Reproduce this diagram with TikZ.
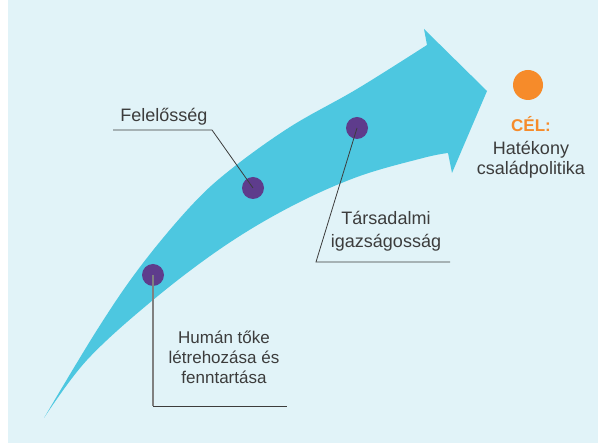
\documentclass[tikz,border=0pt]{standalone}
\usepackage{fontspec}
\setmainfont{Liberation Sans}
\usepackage{xcolor}
\usepackage{tikz}

\definecolor{fondo}{HTML}{E1F3F8}
\definecolor{flecha}{HTML}{4DC7E0}
\definecolor{morado}{HTML}{5E3C8C}
\definecolor{naranja}{HTML}{F68B2A}
\definecolor{gristexto}{HTML}{3C3C3C}

\begin{document}
\begin{tikzpicture}[x=1pt,y=-1pt,
        punto/.style={circle,fill=morado,minimum size=22pt,inner sep=0pt},
        texto/.style={text=gristexto,font=\fontsize{17.5}{20}\selectfont,align=center,inner sep=0pt,anchor=base},
        linea/.style={draw=gristexto,line width=0.8pt}]
        % Fija el marco y el fondo
        \useasboundingbox (0,0) rectangle (598,443);
        \fill[fondo] (8,0) rectangle (598,443);

        % Dibuja la flecha
        \fill[flecha] plot[smooth,tension=0.6] coordinates {(44,418) (97,330) (140,267) (190,207) (230,170) (290,127) (357,89) (427,45)}
            -- (424,29) -- (487,91) -- (452,173)
            -- plot[smooth,tension=0.6] coordinates {(448,153) (423,158) (357,177) (290,207) (223,247) (153,300) (87,360) (44,418)} -- cycle;

        % Coloca los puntos
        \node[punto] (felelosseg) at (253,188) {};
        \node[punto] (tarsadalmi) at (357,128) {};
        \node[punto] (human) at (153,275) {};
        \node[circle,fill=naranja,minimum size=30pt,inner sep=0pt] (cel) at (528,85) {};

        % Dibuja las lineas de las etiquetas
        \coordinate (felelosseg1) at (212,130);
        \coordinate (felelosseg2) at (113,130);
        \draw[linea] (felelosseg.center) -- (felelosseg1) -- (felelosseg2);
        \coordinate (tarsadalmi1) at (316,262);
        \coordinate (tarsadalmi2) at (450,262);
        \draw[linea] (tarsadalmi.center) -- (tarsadalmi1) -- (tarsadalmi2);
        \coordinate (human1) at (153,406);
        \coordinate (human2) at (287,406);
        \draw[linea,draw=gray,line width=1.3pt] (human.center) -- (human1);
        \draw[linea] (human1) -- (human2);

        % Coloca las etiquetas (base = ultima linea)
        \node[texto,font=\fontsize{18}{20}\selectfont] (felelossegtxt) at (164,122) {Felelősség};
        \node[texto,font=\fontsize{18}{23}\selectfont] (tarsadalmitxt) at (386,248) {Társadalmi\\igazságosság};
        \node[texto,font=\fontsize{17}{20}\selectfont] (humantxt) at (224,384) {Humán tőke\\létrehozása és\\fenntartása};
        \node[texto,text=naranja,font=\fontsize{17}{20}\selectfont\bfseries] (celtxt) at (531,132) {CÉL:};
        \node[texto,font=\fontsize{18}{20}\selectfont] (celtxt2) at (531,175) {Hatékony\\családpolitika};
    \end{tikzpicture}
\end{document}
